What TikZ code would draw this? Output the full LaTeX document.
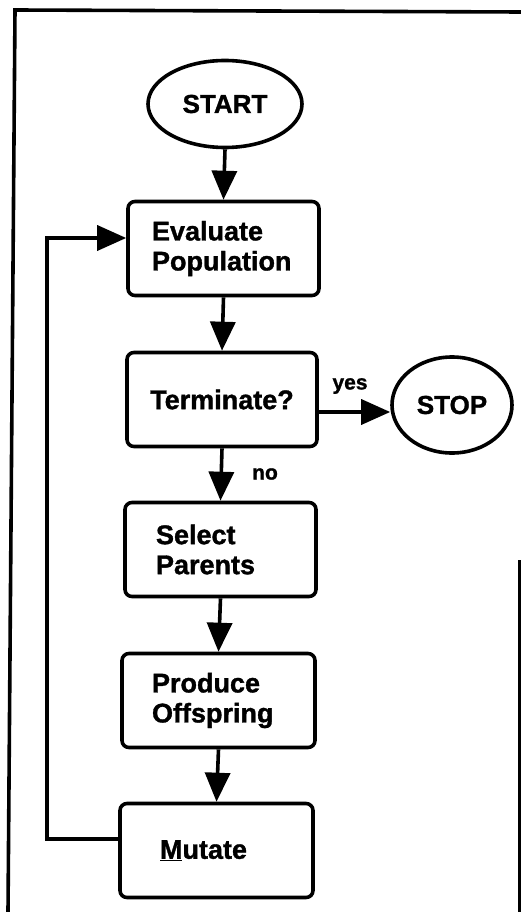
\documentclass[tikz,border=0pt]{standalone}
\usepackage{fontspec}
\setmainfont{Liberation Sans}
\newfontfamily\heavy{Liberation Sans Bold}[FakeBold=1.2]
\usetikzlibrary{shapes.geometric,arrows.meta}
\tikzset{
  lw/.style={line width=3.6pt},
  oval/.style={ellipse, draw, lw, inner sep=0pt, font=\heavy\fontsize{26}{30}\selectfont},
  stepbox/.style={draw, lw, rounded corners=7pt, inner ysep=0pt, align=left,
    font=\heavy\fontsize{27}{30}\selectfont, minimum height=94pt},
  flow/.style={lw, -{Triangle[length=29pt, width=25pt]}},
  lbl/.style={font=\heavy\fontsize{21}{24}\selectfont, inner sep=0pt},
}
\begin{document}
\begin{tikzpicture}[x=1pt, y=-1pt]
\useasboundingbox (0,0) rectangle (521,912);
% frame
\draw[lw] (521,12) -- (15,10) -- (8,912);
\draw[lw] (520,560) -- (520,912);
% nodes
\node[oval, minimum width=154pt, minimum height=87pt] (start) at (225,104) {START};
\node[stepbox, inner xsep=24pt, text width=143pt] (eval) at (223.5,248.5) {Evaluate\\Population};
\node[stepbox, inner xsep=0pt, align=center, minimum width=190pt] (term) at (222,399.5) {Terminate?};
\node[oval, minimum width=120pt, minimum height=96pt] (stop) at (452,405) {STOP};
\node[stepbox, inner xsep=31pt, text width=129pt] (select) at (220.5,549.5) {Select\\Parents};
\node[stepbox, inner xsep=30pt, text width=133pt] (produce) at (218.5,700.5) {Produce\\Offspring};
\node[stepbox, inner xsep=40pt, text width=113pt] (mutate) at (216.5,850.5) {\underline{M}utate};
% labels
\node[lbl] (yes) at (350,386) {yes};
\node[lbl] (no) at (265,474) {no};
% coordinates
\coordinate (yc) at (0,412);
\coordinate (fbb) at (47,839);
\coordinate (fbt) at (47,238);
% connectors
\draw[flow] (start.south) -- (eval.north);
\draw[flow] (eval.south) -- (term.north);
\draw[flow] (term.east |- yc) -- (stop.west |- yc);
\draw[flow] (term.south) -- (select.north);
\draw[flow] (select.south) -- (produce.north);
\draw[flow] (produce.south) -- (mutate.north);
\draw[flow] (mutate.west |- fbb) -- (fbb) -- (fbt) -- (eval.west |- fbt);
\end{tikzpicture}
\end{document}
